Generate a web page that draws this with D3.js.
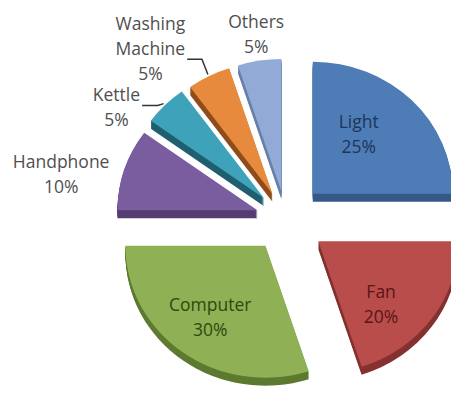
<!DOCTYPE html>
<html>
<head>
<meta charset="utf-8">
<script src="https://cdn.jsdelivr.net/npm/d3@7"></script>
<style>
  body { margin: 0; background: #fff; }
  svg { display: block; font-family: "Open Sans", sans-serif; }
</style>
</head>
<body>
<svg id="chart" width="451" height="395"></svg>
<script>
// Energy use by appliance
var categories = ["Light", "Fan", "Computer", "Handphone", "Kettle", "Washing Machine", "Others"];
var values = [25, 20, 30, 10, 5, 5, 5];
var valueLabels = ["25%", "20%", "30%", "10%", "5%", "5%", "5%"];

// look
var topColors  = ["#4d7cb6", "#b94d4b", "#8fb054", "#7a5d9f", "#3fa2bb", "#e88a3e", "#92abd6"];
var wallColors = ["#345a88", "#853231", "#5d7a30", "#533e72", "#1f5f70", "#8f4d1b", "#6780ab"];
var textColors = ["#1d3557", "#5b1515", "#2e4a0e", "#4f4f4f", "#4f4f4f", "#4f4f4f", "#4f4f4f"];
var explode = [38, 40, 35, 30, 31, 30, 30];          // px, along slice bisector
// label anchor, polar from slice apex: [angle deg, radius]
var labelAt = [[36, 78], [137, 92], [216, 94], [281, 200], [303, 176], [321.5, 196], [351.4, 168]];
var leader = [false, false, false, false, true, true, false];

var svg = d3.select("#chart"),
    cx = 286, cy = 219,
    r = 140, squash = 0.943, depth = 8;

var pie = d3.pie().sort(null).value(function (d) { return d; });
var arc = d3.arc().innerRadius(0).outerRadius(r);
var arcs = pie(values);

function polar(a, rad) {
    var t = a * Math.PI / 180;
    return [Math.sin(t) * rad, -Math.cos(t) * rad * squash];
}

arcs.forEach(function (d, i) {
    var mid = (d.startAngle + d.endAngle) / 2;
    d.ox = cx + Math.sin(mid) * explode[i];
    d.oy = cy - Math.cos(mid) * explode[i] * squash;
});

// side walls first, then the tops
arcs.forEach(function (d, i) {
    var g = svg.append("g");
    for (var j = depth; j >= 1; j--) {
        g.append("path")
            .attr("d", arc(d))
            .attr("fill", wallColors[i])
            .attr("transform", "translate(" + d.ox + "," + (d.oy + j) + ") scale(1," + squash + ")");
    }
});

arcs.forEach(function (d, i) {
    svg.append("path")
        .attr("d", arc(d))
        .attr("fill", topColors[i])
        .attr("transform", "translate(" + d.ox + "," + d.oy + ") scale(1," + squash + ")");
});

// labels
arcs.forEach(function (d, i) {
    var p = polar(labelAt[i][0], labelAt[i][1]);
    var x = d.ox + p[0], y = d.oy + p[1];
    var lines = categories[i].split(" ").concat([valueLabels[i]]);
    var lh = 25;
    var t = svg.append("text")
        .attr("text-anchor", "middle")
        .attr("font-size", "17.5px")
        .attr("fill", textColors[i]);
    lines.forEach(function (s, k) {
        t.append("tspan")
            .attr("x", x)
            .attr("y", y + (k - (lines.length - 1) / 2) * lh + 6)
            .text(s);
    });

    if (leader[i]) {
        // from the end of the name line to the middle of the slice's rim
        var mid = (d.startAngle + d.endAngle) / 2 * 180 / Math.PI;
        var e = polar(mid, r + 2);
        var ex = d.ox + e[0], ey = d.oy + e[1];
        var nameNode = t.selectAll("tspan").nodes()[lines.length - 2];
        var ly = y + ((lines.length - 2) - (lines.length - 1) / 2) * lh + 10;
        var lx = x + nameNode.getComputedTextLength() / 2 + 2;
        svg.append("path")
            .attr("d", d3.line()([[lx, ly], [ex - 6, ly], [ex, ey]]))
            .attr("fill", "none")
            .attr("stroke", "#333")
            .attr("stroke-width", 1.5);
    }
});
</script>
</body>
</html>
